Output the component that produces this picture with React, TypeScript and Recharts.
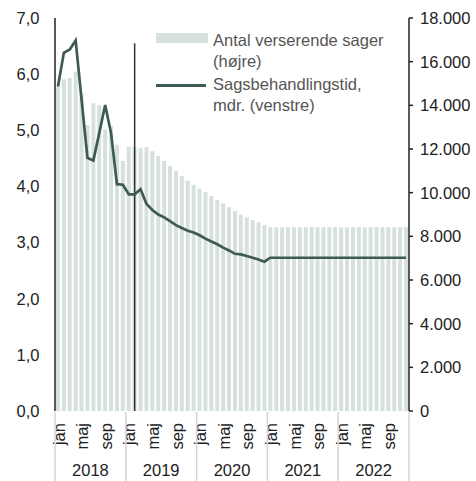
import { ComposedChart, Bar, Line, XAxis, YAxis, ReferenceLine, Legend } from "recharts"

const monthNames = ["jan", "feb", "mar", "apr", "maj", "jun", "jul", "aug", "sep", "okt", "nov", "dec"]
const years = ["2018", "2019", "2020", "2021", "2022"]
const shownMonths = ["jan", "maj", "sep"]

// antal verserende sager (højre akse)
const cases = [
  14850, 15200, 15250, 15550, 14550, 13100, 14100, 14000, 12900, 13050, 12200, 11450,
  12100, 12080, 12030, 12080, 11900, 11680, 11450, 11220, 10990, 10760, 10550, 10350,
  10180, 10020, 9850, 9660, 9500, 9330, 9160, 8990, 8860, 8750, 8630, 8520,
  8420, 8420, 8420, 8420, 8420, 8420, 8420, 8420, 8420, 8420, 8420, 8420,
  8420, 8420, 8420, 8420, 8420, 8420, 8420, 8420, 8420, 8420, 8420, 8420,
]

// sagsbehandlingstid i mdr. (venstre akse)
const duration = [
  5.78, 6.38, 6.44, 6.6, 5.55, 4.51, 4.46, 4.95, 5.45, 4.95, 4.04, 4.03,
  3.86, 3.86, 3.95, 3.69, 3.58, 3.5, 3.45, 3.38, 3.31, 3.26, 3.21, 3.18,
  3.13, 3.07, 3.02, 2.97, 2.91, 2.86, 2.8, 2.79, 2.76, 2.73, 2.7, 2.66,
  2.73, 2.73, 2.73, 2.73, 2.73, 2.73, 2.73, 2.73, 2.73, 2.73, 2.73, 2.73,
  2.73, 2.73, 2.73, 2.73, 2.73, 2.73, 2.73, 2.73, 2.73, 2.73, 2.73, 2.73,
]

const leftTicks = [0, 1, 2, 3, 4, 5, 6, 7]
const rightTicks = [0, 2000, 4000, 6000, 8000, 10000, 12000, 14000, 16000, 18000]

const markerMonth = "feb 2019"
const markerTop = 6.55

const categories = years.flatMap((y) => monthNames.map((m) => `${m} ${y}`))

const chartData = categories.map((c, i) => ({
  month: c,
  sager: cases[i],
  tid: duration[i],
}))

const font = "'Liberation Sans', Arial, sans-serif"
const barColor = "#d6e0dc"
const lineColor = "#3d5a56"

function MonthTick(props: any) {
  const { x, y, payload } = props
  const i = payload.index
  const half = payload.offset || 2.95
  const [m, yr] = String(payload.value).split(" ")
  return (
    <g>
      {shownMonths.includes(m) && (
        <text
          x={x}
          y={y + 12}
          dy="0.4em"
          transform={`rotate(-90 ${x} ${y + 12})`}
          textAnchor="end"
          fontSize={16.5}
          fontFamily={font}
          fill="#222"
        >
          {m}
        </text>
      )}
      {i % 12 === 0 && (
        <line x1={x - half} x2={x - half} y1={y + 1} y2={y + 72} stroke="#d4d4d4" strokeWidth={1.5} />
      )}
      {i === categories.length - 1 && (
        <line x1={x + half} x2={x + half} y1={y + 1} y2={y + 72} stroke="#d4d4d4" strokeWidth={1.5} />
      )}
      {i % 12 === 6 && (
        <text x={x - half} y={y + 59.5} dy="0.35em" textAnchor="middle" fontSize={16.5} fontFamily={font} fill="#222">
          {yr}
        </text>
      )}
    </g>
  )
}

function LegendBox({ payload }: any) {
  return (
    <div style={{ fontFamily: font, fontSize: 16.5, lineHeight: "21px", color: "#555", textAlign: "left" }}>
      {(payload || []).map((p: any) => (
        <div key={p.value} style={{ display: "flex", marginBottom: 1.6 }}>
          <div style={{ width: 57, flexShrink: 0, position: "relative", height: 42 }}>
            {p.type === "rect" ? (
              <div style={{ position: "absolute", left: 0, top: 3, width: 52, height: 10, background: barColor }} />
            ) : (
              <div style={{ position: "absolute", left: 0, top: 10.5, width: 50, height: 2.7, background: lineColor }} />
            )}
          </div>
          <div style={{ width: 180 }}>{p.value}</div>
        </div>
      ))}
    </div>
  )
}

export default function App() {
  return (
    <div style={{ position: "absolute", left: 0, top: 0, width: 476, height: 481 }}>
      <ComposedChart
        width={476}
        height={481}
        data={chartData}
        margin={{ top: 18, right: 0, bottom: 0, left: 0 }}
        barCategoryGap="16%"
      >
        <XAxis
          dataKey="month"
          xAxisId="x"
          height={70}
          interval={0}
          axisLine={false}
          tickLine={false}
          tickSize={0}
          tickMargin={0}
          tick={<MonthTick />}
        />
        <YAxis
          yAxisId="left"
          orientation="left"
          width={55}
          domain={[0, 7]}
          ticks={leftTicks}
          tickFormatter={(v: number) => v.toFixed(1).replace(".", ",")}
          axisLine={{ stroke: "#222", strokeWidth: 1.5 }}
          tickLine={false}
          tickSize={0}
          tickMargin={15.5}
          tick={{ fill: "#222", fontSize: 16.5, fontFamily: font }}
        />
        <YAxis
          yAxisId="right"
          orientation="right"
          width={67}
          domain={[0, 18000]}
          ticks={rightTicks}
          tickFormatter={(v: number) => String(v).replace(/\B(?=(\d{3})+(?!\d))/g, ".")}
          axisLine={{ stroke: "#222", strokeWidth: 1.5 }}
          tickLine={{ stroke: "#222", strokeWidth: 1.5 }}
          tickSize={4}
          tickMargin={7}
          tick={{ fill: "#222", fontSize: 16.5, fontFamily: font }}
        />
        <Legend
          layout="horizontal"
          align="center"
          verticalAlign="middle"
          content={<LegendBox />}
          wrapperStyle={{ position: "absolute", left: 156, top: 30, width: 240 }}
        />
        <Bar
          xAxisId="x"
          yAxisId="right"
          dataKey="sager"
          name="Antal verserende sager (højre)"
          fill={barColor}
          legendType="rect"
          isAnimationActive={false}
        />
        <ReferenceLine
          xAxisId="x"
          yAxisId="left"
          segment={[
            { x: markerMonth, y: markerTop },
            { x: markerMonth, y: 0 },
          ]}
          stroke="#333"
          strokeWidth={1.5}
        />
        <Line
          xAxisId="x"
          yAxisId="left"
          dataKey="tid"
          name="Sagsbehandlingstid, mdr. (venstre)"
          type="linear"
          stroke={lineColor}
          strokeWidth={2.7}
          dot={false}
          legendType="line"
          isAnimationActive={false}
        />
      </ComposedChart>
    </div>
  )
}
